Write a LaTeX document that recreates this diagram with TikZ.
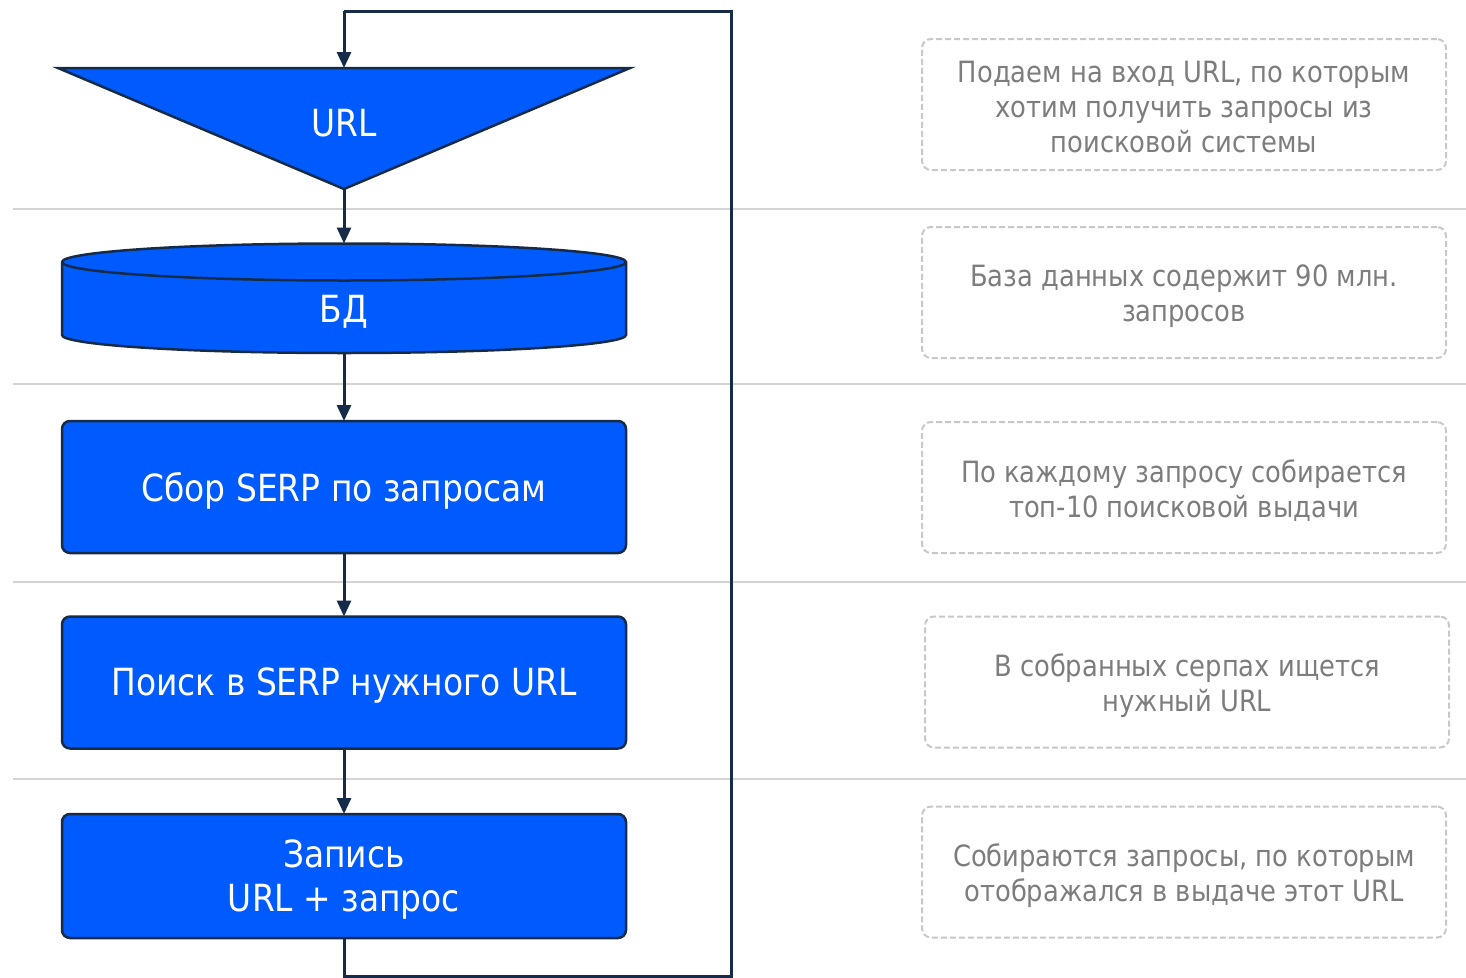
\documentclass[tikz,border=0pt]{standalone}
\usepackage{fontspec}
\setmainfont[FakeStretch=0.88]{DejaVu Sans}
\usetikzlibrary{arrows.meta}
\definecolor{fillblue}{RGB}{0,91,255}
\definecolor{navy}{RGB}{22,43,72}
\definecolor{sepgray}{RGB}{212,212,212}
\definecolor{notegray}{RGB}{200,200,200}
\definecolor{notetext}{RGB}{125,125,125}
\tikzset{
  shapeline/.style={draw=navy, line width=2.5pt, fill=fillblue},
  procbox/.style={shapeline, rectangle, rounded corners=8pt, minimum width=564pt, minimum height=132pt, inner sep=0pt, outer sep=0pt},
  whitelabel/.style={text=white, inner sep=0pt, align=center, font=\fontsize{37.4}{44}\selectfont},
  conn/.style={draw=navy, line width=3pt, -{Triangle[length=16pt,width=14pt]}},
  loopline/.style={draw=navy, line width=3pt},
  sepline/.style={draw=sepgray, line width=1.2pt},
  note/.style={draw=notegray, line width=2pt, dash pattern=on 6pt off 3pt, rounded corners=9pt, minimum width=524pt, minimum height=131pt},
  notetxt/.style={text=notetext, align=center, inner sep=0pt, font=\fontsize{29.3}{35}\selectfont}
}
\begin{document}
\begin{tikzpicture}[x=1pt,y=-1pt]
\useasboundingbox[fill=white] (0,0) rectangle (1466,977);
% separators
\foreach \yy in {209,384,582,779} \draw[sepline] (13,\yy) -- (1466,\yy);
% triangle
\filldraw[shapeline] (58,68) -- (630,68) -- (344,189) -- cycle;
\coordinate (urltop) at (344,68);
\coordinate (urlbot) at (344,189);
\node[whitelabel] (url) at (344,123.5) {URL};
% cylinder
\filldraw[shapeline] (62,262) -- (62,335) arc[start angle=180,end angle=360,x radius=282pt,y radius=18pt] -- (626,262) arc[start angle=0,end angle=180,x radius=282pt,y radius=18.5pt] -- cycle;
\draw[draw=navy, line width=2.5pt] (62,262) arc[start angle=180,end angle=360,x radius=282pt,y radius=18.5pt];
\coordinate (dbtop) at (344,243.5);
\coordinate (dbbot) at (344,353);
\node[whitelabel] (db) at (344,312) {БД};
% process boxes
\node[procbox] (s1) at (344,487) {};
\node[procbox] (s2) at (344,682.5) {};
\node[procbox, minimum height=124pt] (s3) at (344,876) {};
\node[whitelabel] (t1) at (344,491) {Сбор SERP по запросам};
\node[whitelabel] (t2) at (344,686) {Поиск в SERP нужного URL};
\node[whitelabel] (t3) at (344,879) {Запись\\URL + запрос};
% connectors
\draw[conn] (urlbot) -- (dbtop);
\draw[conn] (dbbot) -- (s1.north);
\draw[conn] (s1.south) -- (s2.north);
\draw[conn] (s2.south) -- (s3.north);
\coordinate (lb) at (344,976);
\coordinate (rb) at (731,976);
\coordinate (rt) at (731,11);
\coordinate (lt) at (344,11);
\draw[loopline] (s3.south) -- (lb) -- (rb) -- (rt) -- (lt);
\draw[conn] (lt) -- (urltop);
% notes
\node[note] (n1) at (1184,104.5) {};
\node[note] (n2) at (1184,292.5) {};
\node[note] (n3) at (1184,487.5) {};
\node[note] (n4) at (1187,682) {};
\node[note] (n5) at (1184,872) {};
\node[notetxt] (m1) at (1184,107.5) {Подаем на вход URL, по которым\\хотим получить запросы из\\поисковой системы};
\node[notetxt] (m2) at (1184,296.5) {База данных содержит 90 млн.\\запросов};
\node[notetxt] (m3) at (1184,491) {По каждому запросу собирается\\топ-10 поисковой выдачи};
\node[notetxt] (m4) at (1187,686) {В собранных серпах ищется\\нужный URL};
\node[notetxt] (m5) at (1184,875.5) {Собираются запросы, по которым\\отображался в выдаче этот URL};
\end{tikzpicture}
\end{document}
